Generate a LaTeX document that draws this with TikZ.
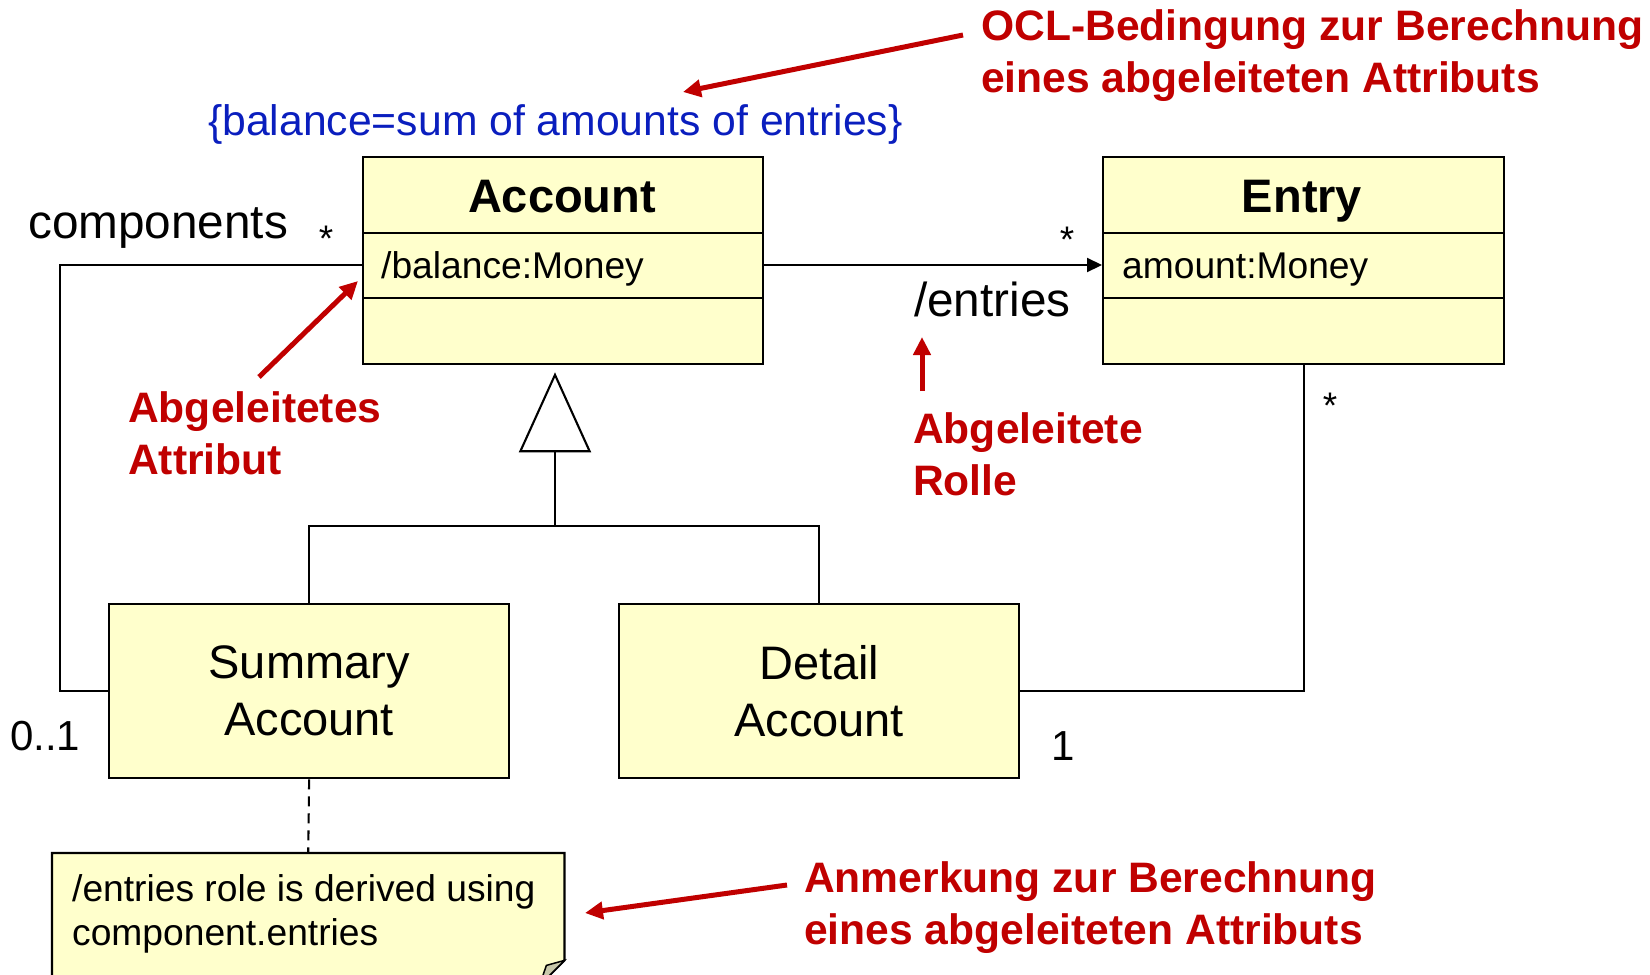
\documentclass[tikz,border=0pt]{standalone}
\usepackage{fontspec}
\setmainfont{Liberation Sans}
\usetikzlibrary{arrows.meta,calc}

\definecolor{umlfill}{RGB}{255,255,204}
\definecolor{notered}{RGB}{192,0,0}
\definecolor{oclblue}{RGB}{10,30,190}
\definecolor{foldgray}{RGB}{200,200,170}

\newcommand\clsfs{\fontsize{47}{57}\selectfont}
\newcommand\rolefs{\fontsize{47.7}{57}\selectfont}
\newcommand\attrfs{\fontsize{37.2}{44}\selectfont}
\newcommand\redfs{\fontsize{42.6}{52}\selectfont}
\newcommand\oclfs{\fontsize{42.7}{50}\selectfont}
\newcommand\multfs{\fontsize{42}{50}\selectfont}
\newcommand\starfs{\fontsize{37}{44}\selectfont}

\begin{document}
\begin{tikzpicture}[x=1pt, y=-1pt,
  box/.style={draw=black, line width=2.3pt, fill=umlfill, inner sep=0pt},
  divider/.style={draw=black, line width=2.3pt},
  conn/.style={draw=black, line width=2.1pt},
  lbl/.style={inner sep=0pt},
  callout/.style={draw=notered, line width=5pt, -{Triangle[length=18pt,width=17pt]}},
  calltext/.style={text=notered, font=\redfs\bfseries, align=left, inner sep=0pt, anchor=north west}]

\useasboundingbox (0,0) rectangle (1650,975);

% compartment rows
\coordinate (r1) at (0,233);
\coordinate (r2) at (0,298);
\coordinate (accrow) at (0,265);

% class Account
\node[box, minimum width=400pt, minimum height=207pt, anchor=north west] (acc) at (362,156) {};
\draw[divider] (acc.west |- r1) -- (acc.east |- r1);
\draw[divider] (acc.west |- r2) -- (acc.east |- r2);
\node[lbl, font=\clsfs\bfseries, anchor=base] (accname) at (562,212) {Account};
\node[lbl, font=\attrfs, anchor=base west] (bal) at (381,278) {/balance:Money};

% class Entry
\node[box, minimum width=401pt, minimum height=207pt, anchor=north west] (ent) at (1102,156) {};
\draw[divider] (ent.west |- r1) -- (ent.east |- r1);
\draw[divider] (ent.west |- r2) -- (ent.east |- r2);
\node[lbl, font=\clsfs\bfseries, anchor=base] (entname) at (1302,212) {Entry};
\node[lbl, font=\attrfs, anchor=base west] (amt) at (1122,278) {amount:Money};

% subclasses
\node[box, minimum width=400pt, minimum height=174pt, anchor=north west] (sum) at (108,603) {};
\node[lbl, font=\clsfs, align=center] (sumtxt) at (sum.center) {Summary\\Account};
\node[box, minimum width=400pt, minimum height=174pt, anchor=north west] (det) at (618,603) {};
\node[lbl, font=\clsfs, align=center] (dettxt) at (det.center) {Detail\\Account};

% generalization
\coordinate (gj) at (555,526);
\draw[conn] (sum.north) |- (gj) -| (det.north);
\draw[conn, -{Triangle[open, length=80pt, width=72pt, fill=white]}, shorten >=7pt] (gj) -- (gj |- acc.south);

% association components (Account -- Summary Account)
\coordinate (lbend) at (60,480);
\draw[conn] (acc.west |- accrow) -| (lbend) |- (sum.west);
\node[lbl, font=\rolefs, anchor=base west] (comp) at (28,238) {components};
\node[lbl, font=\starfs, anchor=base] (m1) at (326,251) {*};
\node[lbl, font=\multfs, anchor=base west] (m2) at (10,750) {0..1};

% derived association /entries (Account -> Entry)
\draw[conn, -{Triangle[length=15pt,width=14pt]}] (acc.east |- accrow) -- (ent.west |- accrow);
\node[lbl, font=\starfs, anchor=base] (m3) at (1067,252) {*};
\node[lbl, font=\rolefs, anchor=base west] (role) at (914,316) {/entries};

% association Detail Account -- Entry
\draw[conn] (ent.south) |- (det.east);
\node[lbl, font=\starfs, anchor=base] (m4) at (1330,418) {*};
\node[lbl, font=\multfs, anchor=base] (m5) at (1063,760) {1};

% OCL constraint
\node[lbl, font=\oclfs, text=oclblue, anchor=base west] (ocl) at (208,135) {\{balance=sum of amounts of entries\}};

% comment note
\node[minimum width=512pt, minimum height=132pt, anchor=north west, inner sep=0pt] (note) at (52,853) {};
\draw[line width=2.3pt, fill=umlfill]
  (note.north west) -- (note.north east) -- ($(note.south east)+(0,-25)$)
  -- ($(note.south east)+(-25,0)$) -- (note.south west) -- cycle;
\draw[line width=1.5pt, fill=foldgray]
  ($(note.south east)+(0,-25)$) -- ($(note.south east)+(-18,-20)$) -- ($(note.south east)+(-25,0)$) -- cycle;
\node[lbl, font=\attrfs, align=left, anchor=north west] (notetxt) at (72,874) {/entries role is derived using\\component.entries};
\draw[conn, dash pattern=on 10pt off 7pt] (sum.south) -- (note.north);

% red annotations
\node[calltext] (t1) at (981,9) {OCL-Bedingung zur Berechnung\\eines abgeleiteten Attributs};
\coordinate (a1s) at (963,35);
\coordinate (a1e) at (683,92);
\draw[callout] (a1s) -- (a1e);

\node[calltext] (t2) at (128,391) {Abgeleitetes\\Attribut};
\coordinate (a2s) at (259,377);
\coordinate (a2e) at (358,281);
\draw[callout] (a2s) -- (a2e);

\node[calltext] (t3) at (913,412) {Abgeleitete\\Rolle};
\coordinate (a3s) at (922,391);
\coordinate (a3e) at (922,337);
\draw[callout] (a3s) -- (a3e);

\node[calltext] (t4) at (804,861) {Anmerkung zur Berechnung\\eines abgeleiteten Attributs};
\coordinate (a4s) at (787,885);
\coordinate (a4e) at (585,913);
\draw[callout] (a4s) -- (a4e);

\end{tikzpicture}
\end{document}
